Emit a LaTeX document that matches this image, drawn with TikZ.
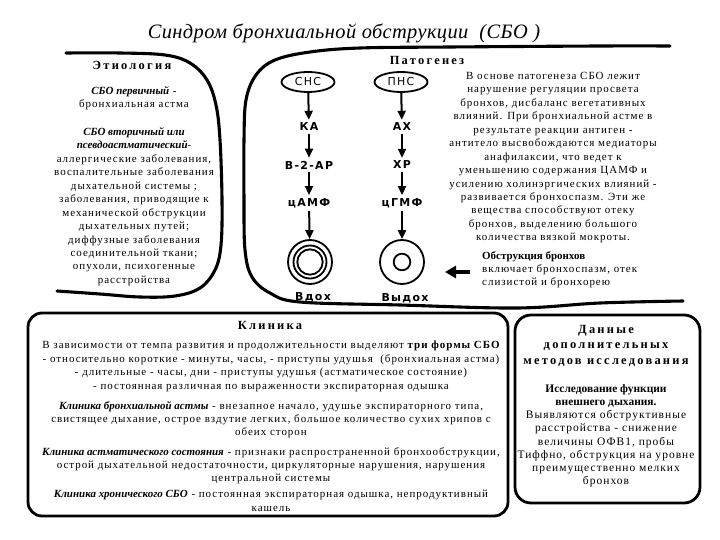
\documentclass[tikz,border=0pt]{standalone}
\usepackage{fontspec}
\setmainfont[LetterSpace=9]{Liberation Serif}
\newfontfamily\plainf{Liberation Serif}
\newfontfamily\headf[LetterSpace=18]{Liberation Serif}
\newfontfamily\sansf[LetterSpace=12]{DejaVu Sans}
\newfontfamily\titlef[LetterSpace=2]{Liberation Serif}
\usetikzlibrary{arrows.meta,shapes.geometric}
\newcommand\bitx[1]{{\plainf\bfseries\itshape #1}}
\tikzset{
 wall/.style={line width=3.1bp, line cap=round, line join=round},
 body/.style={font=\fontsize{11}{13.5}\selectfont, align=center, inner sep=0pt},
 head/.style={font=\headf\bfseries\fontsize{12.5}{15.5}\selectfont, inner sep=0pt, align=center},
 lab/.style={font=\sansf\bfseries\fontsize{11}{12}\selectfont, inner sep=3bp},
 nerve/.style={draw, ellipse, line width=1.8bp, minimum width=53bp, minimum height=20bp, inner sep=0pt, font=\sansf\fontsize{11}{12}\selectfont},
 arr/.style={line width=2bp, -{Triangle[length=9bp,width=8bp]}},
 ring/.style={draw, circle, line width=1.8bp, minimum size=44bp, inner sep=0pt},
 box/.style={wall, line width=2.8bp},
}
\begin{document}
\begin{tikzpicture}[x=1bp,y=-1bp]
\useasboundingbox (0,0) rectangle (720,540);
% title
\node[font=\titlef\itshape\fontsize{20.5}{22}\selectfont, inner sep=0pt] (title) at (344,33) {Синдром бронхиальной обструкции\ \ (СБО )};
% boundaries
\draw[wall] plot[smooth, tension=0.6] coordinates {(66,53) (120,53) (165,55) (190,63) (207,80) (216,105) (220,140) (222,200) (221,245) (215,270) (200,288) (175,296) (140,297) (100,294) (57,291)};
\draw[wall] plot[smooth, tension=0.6] coordinates {(683,301) (600,303) (517,308) (400,305) (300,302) (270,293) (252,277) (245,250) (244,200) (244,140) (246,100) (256,75) (275,60) (310,52) (360,48) (450,47) (600,46) (670,46)};
% headings
\node[head] (etio) at (132,65) {Этиология};
\node[head] (pato) at (427,60) {Патогенез};
% etiology text
\node[body, anchor=north] (etiotext) at (134,86) {\bitx{СБО первичный} -\\
бронхиальная астма\\[14.5bp]
\bitx{СБО вторичный или}\\
\bitx{псевдоастматический}-\\
аллергические заболевания,\\
воспалительные заболевания\\
дыхательной системы ;\\
заболевания, приводящие к\\
механической обструкции\\
дыхательных путей;\\
диффузные заболевания\\
соединительной ткани;\\
опухоли, психогенные\\
расстройства};
% pathogenesis chains
\node[nerve] (sns) at (308,82) {СНС};
\node[lab] (ka) at (309,127) {КА};
\node[lab] (b2ar) at (309,165) {В-2-АР};
\node[lab] (camf) at (309,203) {цАМФ};
\node[ring] (vdoh) at (310,262) {};
\draw[line width=1.8bp] (vdoh.center) circle (16.5bp) (vdoh.center) circle (12.7bp);
\node[lab] (vdohl) at (313,297) {Вдох};
\node[nerve] (pns) at (401,82) {ПНС};
\node[lab] (ah) at (402,127) {АХ};
\node[lab] (hr) at (402,165) {ХР};
\node[lab] (cgmf) at (402,203) {цГМФ};
\node[ring] (vydoh) at (402,262) {};
\draw[line width=1.8bp] (vydoh.center) circle (8.3bp);
\node[lab] (vydohl) at (405,298) {Выдох};
\draw[arr] (sns) -- (ka);
\draw[arr] (ka) -- (b2ar);
\draw[arr] (b2ar) -- (camf);
\draw[arr] (camf) -- (vdoh);
\draw[arr] (pns) -- (ah);
\draw[arr] (ah) -- (hr);
\draw[arr] (hr) -- (cgmf);
\draw[arr] (cgmf) -- (vydoh);
% pathogenesis text
\node[body, anchor=north] (patotext) at (553,72) {В основе патогенеза СБО лежит\\
нарушение регуляции просвета\\
бронхов, дисбаланс вегетативных\\
влияний. При бронхиальной астме в\\
результате реакции антиген -\\
антитело высвобождаются медиаторы\\
анафилаксии, что ведет к\\
уменьшению содержания ЦАМФ и\\
усилению холинэргических влияний -\\
развивается бронхоспазм. Эти же\\
вещества способствуют отеку\\
бронхов, выделению большого\\
количества вязкой мокроты.};
\node[body, align=left, anchor=north west, font=\fontsize{11}{13.3}\selectfont] (obstr) at (482,251) {{\plainf\bfseries Обструкция бронхов}\\
включает бронхоспазм, отек\\
слизистой и бронхорею};
\coordinate (obtail) at (470,272);
\coordinate (obtip) at (445,272);
\draw[line width=3.5bp, -{Triangle[length=11bp,width=12bp]}] (obtail) -- (obtip);
% clinic box
\draw[box, rounded corners=14bp] (28,313) rectangle (508,516);
\node[head] (klin) at (270,325) {Клиника};
\node[body, anchor=north] (k1) at (271,341) {В зависимости от темпа развития и продолжительности выделяют {\bfseries три формы СБО}\\
- относительно короткие - минуты, часы, - приступы удушья\ \ (бронхиальная астма)\\
- длительные - часы, дни - приступы удушья (астматическое состояние)\\
- постоянная различная по выраженности экспираторная одышка};
\node[body, anchor=north] (k2) at (271,401) {\bitx{Клиника бронхиальной астмы} - внезапное начало, удушье экспираторного типа,\\
свистящее дыхание, острое вздутие легких, большое количество сухих хрипов с\\
обеих сторон};
\node[body, anchor=north] (k3) at (271,447) {\bitx{Клиника астматического состояния} - признаки распространенной бронхообструкции,\\
острой дыхательной недостаточности, циркуляторные нарушения, нарушения\\
центральной системы};
\node[body, anchor=north] (k4) at (271,490) {\bitx{Клиника хронического СБО} - постоянная экспираторная одышка, непродуктивный\\
кашель};
% additional methods box
\draw[box, rounded corners=16bp] (515,315) rectangle (700,503);
\node[head, anchor=north] (dann) at (606,325) {Данные\\дополнительных\\методов исследования};
\node[body, anchor=north, font=\fontsize{11.5}{13.3}\selectfont] (danntext) at (606,384) {{\plainf\bfseries Исследование функции}\\
{\plainf\bfseries внешнего дыхания.}\\
Выявляются обструктивные\\
расстройства - снижение\\
величины ОФВ1, пробы\\
Тиффно, обструкция на уровне\\
преимущественно мелких\\
бронхов};
\end{tikzpicture}
\end{document}
